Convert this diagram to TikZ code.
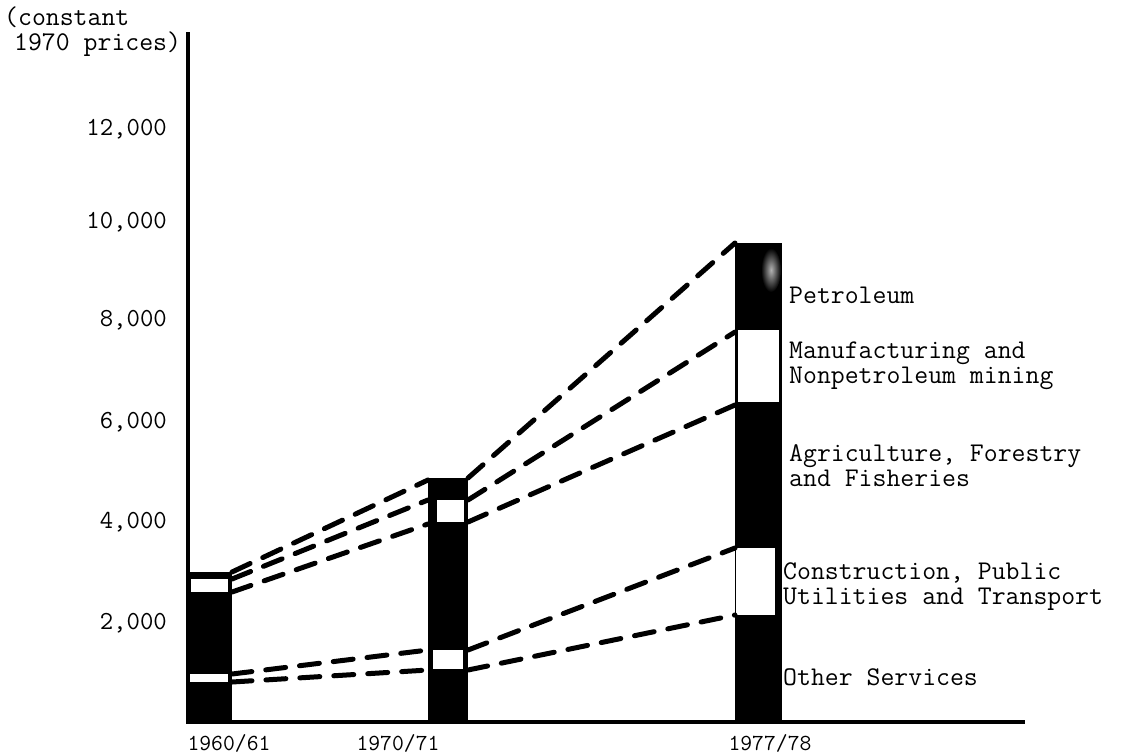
\documentclass[tikz,border=0pt]{standalone}
\usepackage{tikz}

\tikzset{
  lbl/.style={font=\ttfamily\fontsize{27}{25}\selectfont, inner sep=0pt, align=left},
  tick/.style={font=\ttfamily\fontsize{26}{26}\selectfont, inner sep=0pt, anchor=base east},
  yr/.style={font=\ttfamily\fontsize{23}{23}\selectfont, inner sep=0pt, anchor=base},
  link/.style={line width=5pt, dash pattern=on 20pt off 14pt, line cap=round},
}

\begin{document}
\begin{tikzpicture}[x=1pt,y=-1pt]
\useasboundingbox (0,0) rectangle (1123,753);
%\draw (0,0) grid[step=100] (1123,753);

% axes
\draw [line width=4pt] (188,32) -- (188,722);
\draw [line width=4pt] (186,722) -- (1025,722);

\node [lbl, anchor=base west] (unit1) at (4,25) {(constant};
\node [lbl, anchor=base west] (unit2) at (14,50) {1970 prices)};

\node [tick] (t12) at (167,135) {12,000};
\node [tick] (t10) at (167,228) {10,000};
\node [tick] (t8) at (167,326) {8,000};
\node [tick] (t6) at (167,428) {6,000};
\node [tick] (t4) at (167,528) {4,000};
\node [tick] (t2) at (167,629) {2,000};

% bars
\fill (188,572) rectangle (232,722); \fill [white] (191,579) rectangle (228,592); \fill [white] (190,674) rectangle (228,682);
\fill (428,478) rectangle (468,722); \fill [white] (437,500) rectangle (464,522); \fill [white] (433,650) rectangle (463,669);
\fill (735,243) rectangle (782,722); \fill [white] (738,330) rectangle (779,402); \fill [white] (736,548) rectangle (775,615);
\shade [inner color=gray!60, outer color=black] (771,270) ellipse (10 and 22);

\node [yr] (y60) at (229,750) {1960/61};
\node [yr] (y70) at (398,750) {1970/71};
\node [yr] (y77) at (770,750) {1977/78};

% boundaries between sectors
\coordinate (a1) at (232,572); \coordinate (a2) at (232,579); \coordinate (a3) at (232,592); \coordinate (a4) at (232,674); \coordinate (a5) at (232,682);
\coordinate (bl1) at (428,480); \coordinate (bl2) at (428,500); \coordinate (bl3) at (428,524); \coordinate (bl4) at (428,650); \coordinate (bl5) at (428,670);
\coordinate (br1) at (468,478); \coordinate (br2) at (468,500); \coordinate (br3) at (468,522); \coordinate (br4) at (468,650); \coordinate (br5) at (468,670);
\coordinate (c1) at (735,243); \coordinate (c2) at (735,332); \coordinate (c3) at (735,405); \coordinate (c4) at (735,548); \coordinate (c5) at (735,615);

\draw [link] (a1) -- (bl1); \draw [link] (a2) -- (bl2); \draw [link] (a3) -- (bl3); \draw [link] (a4) -- (bl4); \draw [link] (a5) -- (bl5);
\draw [link] (br1) -- (c1); \draw [link] (br2) -- (c2); \draw [link] (br3) -- (c3); \draw [link] (br4) -- (c4); \draw [link] (br5) -- (c5);

\node [lbl, anchor=base west] (petro) at (789,303) {Petroleum};
\node [lbl, anchor=north west] (manuf) at (789,342) {Manufacturing and\\Nonpetroleum mining};
\node [lbl, anchor=north west] (agri) at (789,444) {Agriculture, Forestry\\and Fisheries};
\node [lbl, anchor=north west] (constr) at (783,562) {Construction, Public\\Utilities and Transport};
\node [lbl, anchor=base west] (other) at (783,685) {Other Services};
\end{tikzpicture}
\end{document}
